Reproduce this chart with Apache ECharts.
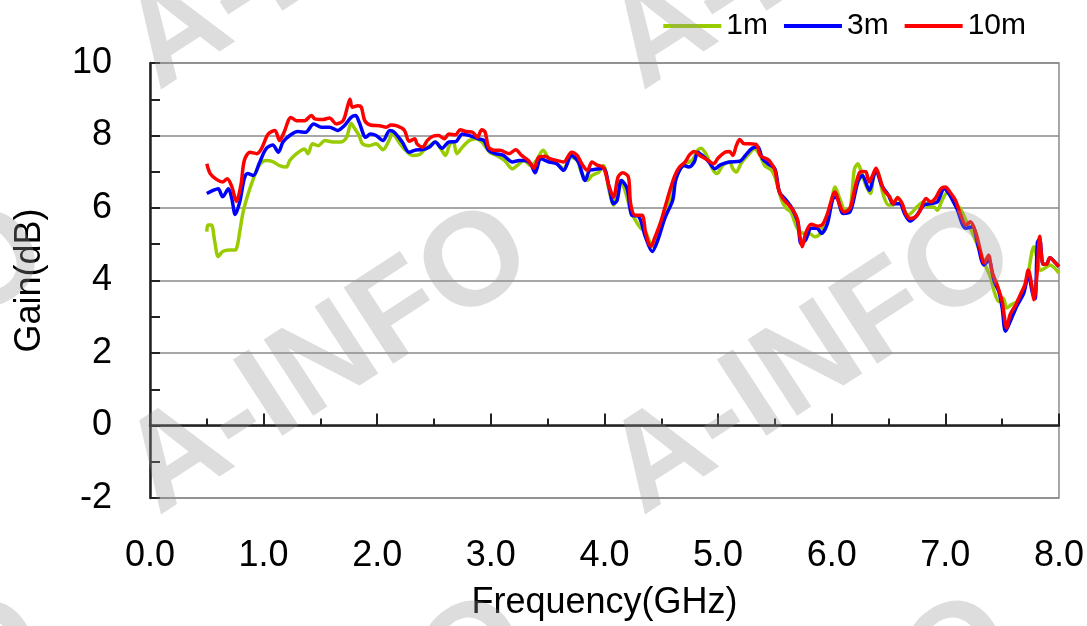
<!DOCTYPE html>
<html>
<head>
<meta charset="utf-8">
<script src="https://cdn.jsdelivr.net/npm/echarts@6/dist/echarts.min.js"></script>
<style>html,body{margin:0;padding:0;background:#fff;}#c{width:1087px;height:626px;}</style>
</head>
<body>
<div id="c"></div>
<script>
const xTicks = [0,1,2,3,4,5,6,7,8];
const yTicks = [-2,0,2,4,6,8,10];
const seriesNames = ['1m','3m','10m'];

const freq1m = [0.50,0.51,0.54,0.57,0.60,0.64,0.70,0.75,0.77,0.79,0.82,0.86,0.91,0.96,1.02,1.08,1.14,1.20,1.23,1.29,1.36,1.39,1.43,1.48,1.54,1.61,1.68,1.73,1.77,1.80,1.84,1.87,1.93,1.99,2.05,2.11,2.13,2.19,2.25,2.31,2.37,2.41,2.47,2.51,2.56,2.60,2.64,2.67,2.70,2.75,2.81,2.87,2.92,2.99,3.05,3.12,3.19,3.23,3.29,3.35,3.40,3.46,3.51,3.58,3.64,3.70,3.76,3.80,3.85,3.89,3.95,3.99,4.04,4.08,4.14,4.18,4.23,4.27,4.32,4.36,4.41,4.44,4.49,4.55,4.59,4.65,4.71,4.77,4.82,4.85,4.90,4.95,4.99,5.04,5.10,5.13,5.16,5.20,5.26,5.32,5.37,5.41,5.47,5.51,5.56,5.60,5.64,5.69,5.72,5.76,5.80,5.85,5.89,5.93,5.99,6.03,6.07,6.12,6.16,6.18,6.20,6.23,6.26,6.30,6.34,6.37,6.40,6.45,6.50,6.54,6.58,6.62,6.67,6.71,6.75,6.81,6.85,6.90,6.93,6.97,7.02,7.08,7.13,7.18,7.22,7.27,7.31,7.35,7.40,7.43,7.47,7.51,7.54,7.58,7.63,7.68,7.72,7.78,7.84,7.88,7.92,7.96,8.00];
const gain1m = [5.35,5.53,5.53,5.07,4.66,4.80,4.84,4.84,4.98,5.35,5.89,6.35,6.81,7.17,7.31,7.28,7.17,7.13,7.31,7.50,7.63,7.50,7.77,7.72,7.86,7.82,7.82,7.95,8.34,8.20,8.00,7.77,7.72,7.77,7.61,7.91,8.09,7.82,7.59,7.45,7.47,7.59,7.74,7.82,7.63,7.45,7.77,7.82,7.50,7.68,7.86,7.91,7.82,7.54,7.45,7.31,7.08,7.17,7.31,7.17,7.31,7.59,7.36,7.22,7.08,7.40,7.31,6.95,6.76,6.90,6.99,7.17,6.49,6.08,6.76,6.49,5.94,5.67,5.44,5.35,4.98,4.94,5.44,5.89,6.35,6.99,7.22,7.31,7.59,7.65,7.45,7.08,6.95,7.17,7.27,7.08,6.99,7.22,7.45,7.63,7.45,7.17,7.04,6.76,6.21,5.99,5.89,5.48,5.35,5.30,5.30,5.21,5.26,5.57,6.08,6.58,6.26,5.94,5.99,6.44,7.08,7.22,7.00,6.63,6.40,6.90,7.00,6.40,6.08,6.08,6.30,6.08,5.80,5.89,6.03,6.17,6.03,6.03,5.94,6.21,6.44,6.12,5.99,5.67,5.44,5.07,4.75,4.43,4.06,3.70,3.42,3.51,3.24,3.33,3.42,3.70,4.06,4.93,4.28,4.35,4.43,4.35,4.20];

const freq3m = [0.50,0.56,0.60,0.64,0.69,0.72,0.75,0.79,0.83,0.86,0.91,0.96,1.02,1.08,1.13,1.17,1.23,1.30,1.37,1.44,1.51,1.58,1.65,1.71,1.77,1.81,1.84,1.90,1.94,1.99,2.05,2.11,2.15,2.22,2.28,2.34,2.40,2.46,2.51,2.57,2.63,2.69,2.75,2.83,2.89,2.94,2.98,3.04,3.11,3.19,3.25,3.30,3.35,3.39,3.44,3.51,3.58,3.64,3.71,3.77,3.83,3.87,3.91,3.99,4.04,4.08,4.11,4.15,4.20,4.24,4.30,4.36,4.42,4.47,4.53,4.60,4.63,4.70,4.74,4.79,4.82,4.86,4.92,4.97,5.02,5.10,5.19,5.24,5.30,5.35,5.39,5.44,5.50,5.54,5.60,5.65,5.70,5.73,5.77,5.82,5.87,5.91,5.96,6.01,6.04,6.10,6.16,6.23,6.27,6.33,6.39,6.44,6.50,6.54,6.60,6.64,6.69,6.75,6.81,6.87,6.93,6.99,7.04,7.10,7.18,7.24,7.28,7.34,7.38,7.43,7.47,7.50,7.53,7.58,7.63,7.69,7.73,7.77,7.79,7.81,7.83,7.86,7.89,7.92,7.96,8.00];
const gain3m = [6.40,6.49,6.53,6.31,6.53,6.26,5.82,6.17,6.81,6.95,6.90,7.22,7.63,7.74,7.54,7.82,8.00,8.11,8.09,8.32,8.23,8.23,8.14,8.27,8.50,8.55,8.37,7.95,8.04,8.00,7.86,8.14,8.09,7.82,7.54,7.60,7.61,7.68,7.82,7.65,7.82,7.83,8.04,7.98,7.91,7.86,7.59,7.50,7.45,7.27,7.31,7.31,7.22,6.97,7.36,7.27,7.22,7.04,7.45,7.27,6.76,7.04,7.06,7.10,6.58,6.12,6.20,6.76,6.53,5.80,5.77,5.21,4.80,5.12,5.71,6.21,6.81,7.17,7.13,7.27,7.54,7.45,7.27,7.08,7.19,7.27,7.29,7.45,7.65,7.68,7.36,7.22,7.08,6.44,6.21,5.99,5.62,5.02,5.12,5.44,5.44,5.30,5.55,6.26,6.30,5.85,5.89,6.72,6.90,6.49,7.04,6.62,6.35,6.12,6.12,5.85,5.64,5.80,6.08,6.12,6.17,6.53,6.35,5.99,5.44,5.48,5.07,4.43,4.57,3.98,3.70,3.24,2.60,2.94,3.30,3.65,4.16,3.61,3.50,5.05,5.15,4.45,4.45,4.63,4.52,4.38];

const freq10m = [0.50,0.53,0.585,0.64,0.68,0.72,0.76,0.80,0.83,0.88,0.94,0.98,1.04,1.10,1.14,1.18,1.24,1.29,1.36,1.42,1.45,1.52,1.58,1.64,1.70,1.74,1.76,1.78,1.83,1.86,1.89,1.94,2.02,2.08,2.12,2.18,2.24,2.28,2.33,2.35,2.40,2.44,2.49,2.54,2.59,2.63,2.69,2.73,2.78,2.84,2.88,2.92,2.95,2.98,3.03,3.08,3.16,3.22,3.27,3.33,3.38,3.42,3.48,3.52,3.58,3.64,3.71,3.76,3.80,3.85,3.89,3.93,3.99,4.04,4.08,4.12,4.16,4.21,4.23,4.27,4.33,4.36,4.39,4.41,4.44,4.49,4.53,4.58,4.62,4.66,4.71,4.75,4.79,4.84,4.90,4.96,5.00,5.06,5.10,5.13,5.16,5.19,5.23,5.28,5.34,5.37,5.41,5.45,5.50,5.53,5.57,5.61,5.66,5.70,5.72,5.74,5.77,5.82,5.88,5.92,5.96,6.01,6.03,6.07,6.11,6.16,6.20,6.24,6.27,6.30,6.33,6.36,6.39,6.42,6.46,6.51,6.54,6.58,6.62,6.65,6.69,6.74,6.78,6.83,6.87,6.91,6.96,7.00,7.04,7.09,7.13,7.18,7.22,7.27,7.31,7.34,7.38,7.41,7.46,7.50,7.54,7.57,7.62,7.66,7.70,7.73,7.76,7.78,7.81,7.83,7.86,7.89,7.92,7.96,8.00];
const gain10m = [7.22,6.95,6.79,6.72,6.81,6.59,6.18,6.63,7.31,7.54,7.50,7.63,8.04,8.14,7.86,8.09,8.50,8.41,8.41,8.55,8.46,8.44,8.48,8.32,8.41,8.82,9.00,8.78,8.82,8.78,8.41,8.29,8.27,8.23,8.29,8.26,8.14,7.84,7.91,7.77,7.68,7.86,7.98,8.00,7.91,8.04,8.02,8.16,8.11,8.09,7.95,8.16,8.09,7.68,7.59,7.59,7.50,7.61,7.45,7.31,7.10,7.40,7.43,7.36,7.31,7.27,7.54,7.45,7.22,7.04,7.27,7.19,7.12,6.60,6.30,6.86,6.97,6.86,6.12,5.80,5.80,5.35,5.02,4.95,5.16,5.57,5.99,6.53,6.90,7.13,7.27,7.47,7.56,7.45,7.34,7.22,7.38,7.54,7.56,7.45,7.72,7.89,7.77,7.77,7.74,7.45,7.38,7.31,7.04,6.53,6.26,6.12,5.94,5.67,5.21,4.93,5.30,5.55,5.50,5.55,5.82,6.35,6.44,6.08,5.89,5.99,6.49,6.95,7.01,7.00,6.72,6.90,7.10,6.86,6.49,6.31,6.12,6.28,6.12,5.85,5.71,5.76,5.94,6.26,6.17,6.26,6.53,6.58,6.44,6.21,5.85,5.53,5.62,5.30,4.80,4.48,4.70,4.25,3.84,3.42,2.69,3.06,3.33,3.61,3.88,4.29,3.88,3.47,4.30,5.22,4.45,4.45,4.63,4.52,4.38];

const seriesColors = ['#99cc00','#0000ff','#ff0000'];
const zip = (f, g) => f.map((x, i) => [x, g[i]]);

const chart = echarts.init(document.getElementById('c'));
const FONT = '"Liberation Sans", Arial, sans-serif';

// watermark
const wmRows = [-63, 362, 752];
const wm = [];
for (let i = -1; i <= 2; i++) {
  wmRows.forEach(function (ry) {
    wm.push({
      type: 'text', x: 329 + 484 * i, y: ry,
      rotation: 33 * Math.PI / 180, z: 100, silent: true,
      style: { text: 'A-INFO', fontSize: 132, fontWeight: 'bold', fontFamily: FONT,
        fill: 'rgba(150,150,150,0.32)', align: 'center', verticalAlign: 'middle' }
    });
  });
}

chart.setOption({
  animation: false,
  backgroundColor: '#fff',
  textStyle: { fontFamily: FONT },
  graphic: wm,
  legend: {
    data: seriesNames, right: 56, top: 6, itemWidth: 58, itemHeight: 4, itemGap: 16,
    icon: 'rect',
    textStyle: { fontSize: 30, color: '#000', fontFamily: FONT }
  },
  grid: { left: 150, right: 26, top: 63, bottom: 125, show: true, borderColor: '#8a8a8a', borderWidth: 1.5 },
  xAxis: {
    type: 'value', min: xTicks[0], max: xTicks[xTicks.length - 1], interval: 1,
    name: 'Frequency(GHz)', nameLocation: 'middle', nameGap: 87,
    nameTextStyle: { fontSize: 36, color: '#000', fontFamily: FONT },
    axisLine: { lineStyle: { color: '#222', width: 2.5 } },
    axisTick: { inside: true, length: 12, lineStyle: { color: '#222', width: 2 } },
    minorTick: { show: true, splitNumber: 2, length: 7, lineStyle: { color: '#222', width: 2 } },
    splitLine: { show: false },
    axisLabel: { fontSize: 36, color: '#000', margin: 40, fontFamily: FONT, formatter: v => v.toFixed(1) }
  },
  yAxis: {
    type: 'value', min: yTicks[0], max: yTicks[yTicks.length - 1], interval: 2,
    name: 'Gain(dB)', nameLocation: 'middle', nameGap: 102,
    nameTextStyle: { fontSize: 36, color: '#000', fontFamily: FONT },
    axisLine: { lineStyle: { color: '#222', width: 2.5 } },
    axisTick: { inside: true, length: 10, lineStyle: { color: '#222', width: 2 } },
    minorTick: { show: true, splitNumber: 2, length: 10, lineStyle: { color: '#222', width: 2 } },
    splitLine: { lineStyle: { color: '#8a8a8a', width: 1.5 } },
    axisLabel: { fontSize: 36, color: '#000', margin: 38, fontFamily: FONT }
  },
  series: [
    { name: seriesNames[0], type: 'line', symbol: 'none', smooth: 0.3, data: zip(freq1m, gain1m),
      lineStyle: { color: seriesColors[0], width: 3.5, join: 'round' }, itemStyle: { color: seriesColors[0] } },
    { name: seriesNames[1], type: 'line', symbol: 'none', smooth: 0.3, data: zip(freq3m, gain3m),
      lineStyle: { color: seriesColors[1], width: 3.5, join: 'round' }, itemStyle: { color: seriesColors[1] } },
    { name: seriesNames[2], type: 'line', symbol: 'none', smooth: 0.3, data: zip(freq10m, gain10m),
      lineStyle: { color: seriesColors[2], width: 3.5, join: 'round' }, itemStyle: { color: seriesColors[2] } }
  ]
});
</script>
</body>
</html>
